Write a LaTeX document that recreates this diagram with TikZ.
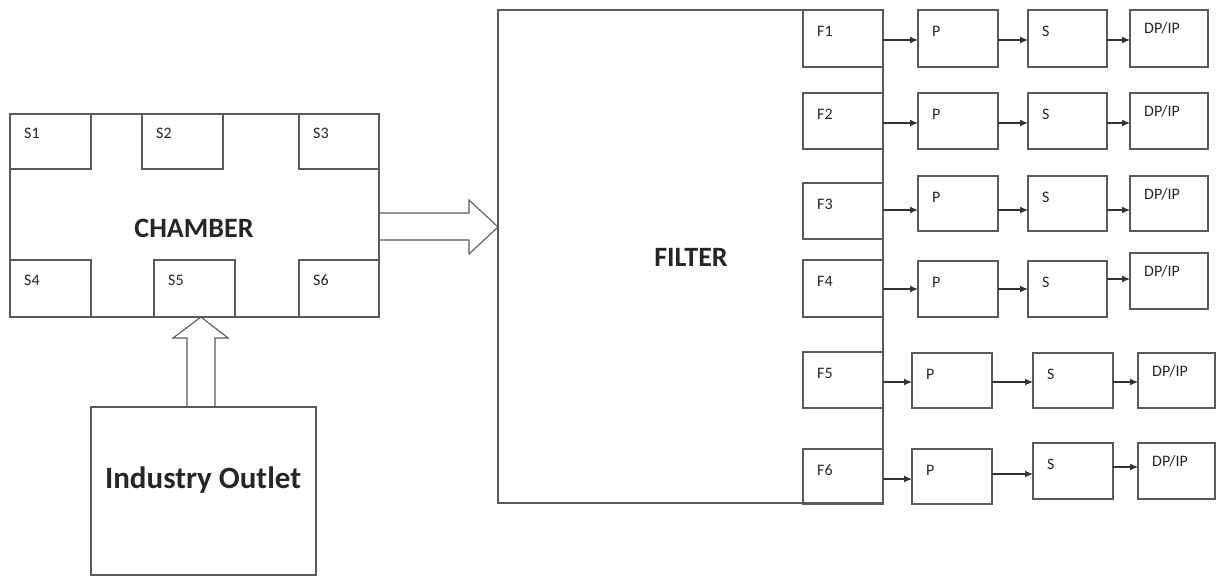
\documentclass[tikz,border=0pt]{standalone}
\usepackage{fontspec}
\setmainfont{Carlito}
\usetikzlibrary{arrows.meta,calc}
\definecolor{lc}{HTML}{5A5A5A}
\definecolor{tc}{HTML}{262626}
\tikzset{
  box/.style={draw=lc, line width=1.1pt, anchor=north west, inner sep=0pt, outer sep=0pt},
  lbl/.style={text=tc, anchor=west, inner sep=0pt, font=\fontsize{16}{18}\selectfont},
  big/.style={text=tc, inner sep=0pt, font=\bfseries\fontsize{28}{32}\selectfont},
  arr/.style={draw=black!80, line width=1.2pt, -{Latex[length=8pt,width=7pt]}},
  blk/.style={draw=lc, line width=1.1pt, line join=miter},
}
\newcommand{\bx}[5]{\node[box, minimum width={(#4-#2)*1pt}, minimum height={(#5-#3)*1pt}] (#1) at (#2,#3) {};}
\newcommand{\lb}[3][20]{\node[lbl] at ($(#2.north west)+(14,#1)$) {#3};}
\begin{document}
\begin{tikzpicture}[x=1pt,y=-1pt]
\useasboundingbox (0,0) rectangle (1217,577);
% chamber
\bx{chamber}{10}{114}{379}{317}
\bx{sen1}{10}{114}{91}{169}
\bx{sen2}{142}{114}{223}{169}
\bx{sen3}{299}{114}{379}{169}
\bx{sen4}{10}{260}{91}{317}
\bx{sen5}{154}{260}{235}{317}
\bx{sen6}{299}{260}{379}{317}
\lb[19]{sen1}{S1}
\lb[19]{sen2}{S2}
\lb[19]{sen3}{S3}
\lb{sen4}{S4}
\lb{sen5}{S5}
\lb{sen6}{S6}
\node[big] at (194,228) {CHAMBER};
% industry outlet
\bx{outlet}{91}{407}{316}{575}
\node[big, font=\bfseries\fontsize{31}{36}\selectfont] at (203,480) {Industry Outlet};
% block arrows
\draw[blk] (187,407) -- (187,338) -- (173,338) -- (201,317) -- (228,338) -- (215,338) -- (215,407);
\draw[blk] (379,213) -- (469,213) -- (469,200) -- (498,227) -- (469,254) -- (469,240) -- (379,240);
% filter
\bx{filter}{498}{10}{883}{503}
\node[big] at (691,257) {FILTER};
% rows
\bx{f1}{803}{10}{883}{67}
\bx{f2}{803}{93}{883}{149}
\bx{f3}{803}{183}{883}{239}
\bx{f4}{803}{260}{883}{317}
\bx{f5}{803}{352}{883}{408}
\bx{f6}{803}{449}{883}{504}
\bx{p1}{918}{10}{998}{67}
\bx{p2}{918}{93}{998}{149}
\bx{p3}{918}{176}{998}{231}
\bx{p4}{918}{261}{998}{317}
\bx{p5}{912}{353}{992}{408}
\bx{p6}{912}{449}{992}{504}
\bx{sb1}{1028}{10}{1107}{67}
\bx{sb2}{1028}{93}{1107}{149}
\bx{sb3}{1028}{176}{1107}{231}
\bx{sb4}{1028}{261}{1107}{317}
\bx{sb5}{1033}{353}{1113}{408}
\bx{sb6}{1033}{443}{1113}{499}
\bx{dp1}{1130}{10}{1208}{67}
\bx{dp2}{1130}{93}{1208}{149}
\bx{dp3}{1130}{176}{1208}{231}
\bx{dp4}{1130}{253}{1208}{309}
\bx{dp5}{1138}{353}{1215}{408}
\bx{dp6}{1138}{443}{1215}{499}
\foreach \i in {1,...,6}{
  \lb[21]{f\i}{F\i}
  \lb[21]{p\i}{P}
  \lb[21]{sb\i}{S}
  \lb[18]{dp\i}{DP/IP}
}
% arrows
\coordinate (r1) at (0,40);
\coordinate (r2) at (0,123);
\coordinate (r3) at (0,210);
\coordinate (r4) at (0,289);
\coordinate (r4b) at (0,279);
\coordinate (r5) at (0,382);
\coordinate (r6a) at (0,479);
\coordinate (r6b) at (0,474);
\coordinate (r6c) at (0,467);
\foreach \i in {1,2,3,5}{
  \draw[arr] (f\i.east |- r\i) -- (p\i.west |- r\i);
  \draw[arr] (p\i.east |- r\i) -- (sb\i.west |- r\i);
  \draw[arr] (sb\i.east |- r\i) -- (dp\i.west |- r\i);
}
\draw[arr] (f4.east |- r4) -- (p4.west |- r4);
\draw[arr] (p4.east |- r4) -- (sb4.west |- r4);
\draw[arr] (sb4.east |- r4b) -- (dp4.west |- r4b);
\draw[arr] (f6.east |- r6a) -- (p6.west |- r6a);
\draw[arr] (p6.east |- r6b) -- (sb6.west |- r6b);
\draw[arr] (sb6.east |- r6c) -- (dp6.west |- r6c);
\end{tikzpicture}
\end{document}
